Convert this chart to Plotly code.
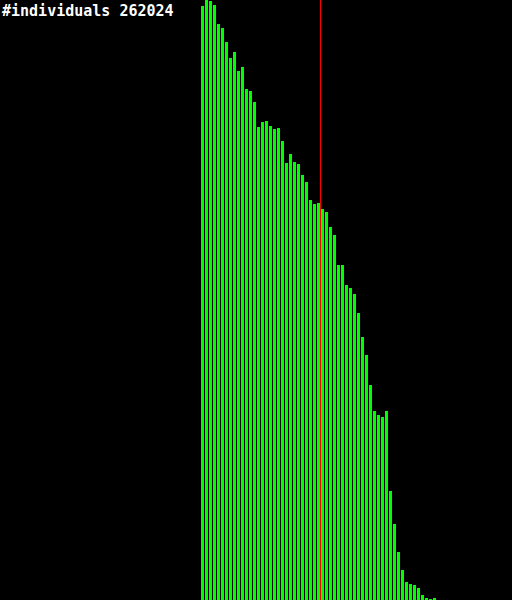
import plotly.graph_objects as go

# histogram bins (index) and counts
bins = list(range(50, 109))
counts = [594, 600, 599, 595, 576, 572, 558, 542, 548, 529, 533, 511, 509, 498,
          473, 478, 479, 474, 471, 472, 459, 437, 446, 438, 436, 425, 418, 400,
          396, 397, 391, 388, 373, 365, 335, 335, 315, 312, 306, 287, 263, 245,
          215, 189, 185, 183, 189, 109, 76, 48, 30, 18, 16, 15, 12, 5, 2, 1, 2]
marker_bin = 80.125
label = "#individuals 262024"

fig = go.Figure()
fig.add_trace(go.Bar(x=bins, y=counts, width=0.75, offset=0.25,
                     marker=dict(color="#00ff00", line=dict(width=0))))
fig.add_shape(type="line", xref="x", yref="paper", x0=marker_bin, x1=marker_bin,
              y0=0, y1=1, line=dict(color="#ff0000", width=1))
fig.add_annotation(text=label, xref="paper", yref="paper", x=0, y=1,
                   xanchor="left", yanchor="top", showarrow=False,
                   font=dict(family="DejaVu Sans Mono", size=15, color="white",
                             weight="bold"))
fig.update_layout(width=512, height=600, margin=dict(l=0, r=0, t=0, b=0),
                  paper_bgcolor="black", plot_bgcolor="black", showlegend=False,
                  bargap=0)
fig.update_xaxes(range=[0, 128], visible=False, showgrid=False)
fig.update_yaxes(range=[0, 600], visible=False, showgrid=False)
fig.write_html("out.html", config={"displayModeBar": False},
               post_script="document.body.style.margin='0';document.body.style.background='black';")
